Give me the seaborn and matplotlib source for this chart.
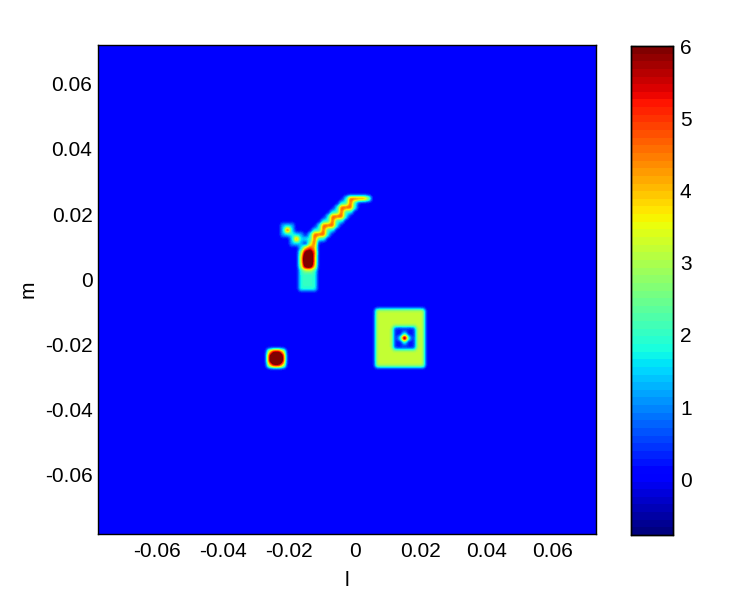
import pandas as pd
import seaborn as sns
from matplotlib import pyplot as plt

# grid columns / rows, counted from the bright middle of the square source
col_ids = list(range(-69, 44))
row_ids = list(range(66, -45, -1))
l_step = 0.0013636
m_step = 0.0013846
l_centre = 0.0151
m_centre = -0.01754

# square source: plateau with a hole and a bright middle
box_cols = list(range(-6, 5))
box_rows = list(range(6, -7, -1))
box_level = 3.2
hole_cols = [-2, -1, 0, 1, 2]
hole_rows = [2, 1, 0, -1, -2]
hole_level = 0.2
inner_cols = [-1, 0, 1]
inner_rows = [1, 0, -1]
peak_cols = [0, -1, 1, 0, 0]
peak_rows = [0, 0, 0, 1, -1]
peak_vals = [8.0, 1.8, 1.8, 1.8, 1.8]

# small bright source, lower left
core_cols = [-30, -29, -28, -27]
core_rows = [-3, -4, -5, -6]
core_vals = [
    [4.0, 5.8, 5.8, 4.0],
    [5.8, 9.0, 9.0, 5.8],
    [5.8, 9.0, 9.0, 5.8],
    [4.0, 5.8, 5.8, 4.0],
]

# stem of the Y
stem_cols = [-23, -22, -21, -20]
stem_rows = [20, 19, 18, 17, 16, 15, 14, 13, 12, 11]
stem_vals = [
    [1.5, 4.2, 5.0, 4.2],
    [3.0, 6.5, 7.0, 5.0],
    [3.5, 8.0, 8.5, 4.5],
    [3.5, 8.0, 8.5, 4.5],
    [3.2, 7.0, 7.5, 4.2],
    [2.0, 2.8, 2.8, 2.2],
    [2.0, 2.0, 2.0, 2.0],
    [2.0, 2.0, 2.0, 2.0],
    [2.0, 2.0, 2.0, 2.0],
    [2.0, 2.0, 2.0, 2.0],
]

# low shoulder of the staircase arm, one run of columns per row
band_rows = [31, 30, 29, 28, 27, 26, 25, 24, 23, 22]
band_first = [-13, -14, -15, -16, -17, -18, -19, -20, -21, -22]
band_last = [-9, -11, -11, -12, -13, -14, -15, -16, -17, -18]
band_level = 1.8

# ridge of the staircase arm
arm_cols = [-8, -9, -10, -11, -12, -12, -12, -13, -14, -14, -14, -15, -16,
            -16, -16, -17, -18, -18, -18, -19, -20, -20, -20, -21]
arm_rows = [31, 31, 31, 31, 31, 30, 29, 29, 29, 28, 27, 27, 27,
            26, 25, 25, 25, 24, 23, 23, 23, 22, 21, 21]
arm_vals = [3.2, 5.0, 5.0, 5.0, 5.0, 5.0, 5.0, 5.0, 5.0, 5.0, 5.0, 5.0, 5.0,
            5.0, 5.0, 5.0, 5.0, 5.0, 5.0, 5.0, 5.0, 5.0, 5.0, 3.0]

# the two spots of the left arm and the low ground under them
spot_ground_cols = [[-27, -26, -25], [-25, -24, -23]]
spot_ground_rows = [[25, 24, 23], [23, 22, 21]]
spot_ground_level = 1.4
spot_cols = [-26, -24, -25]
spot_rows = [24, 22, 23]
spot_vals = [5.8, 5.2, 2.0]

tick_vals = [-0.06, -0.04, -0.02, 0, 0.02, 0.04, 0.06]
tick_labels = ["-0.06", "-0.04", "-0.02", "0", "0.02", "0.04", "0.06"]
cbar_ticks = [0, 1, 2, 3, 4, 5, 6]
v_min = -0.77
v_max = 6


def x_pos(l):
    return (l - l_centre) / l_step - col_ids[0] + 0.5


def y_pos(m):
    return row_ids[0] - (m - m_centre) / m_step + 0.5


grid = pd.DataFrame(0.0, index=row_ids, columns=col_ids)
grid.loc[box_rows, box_cols] = box_level
grid.loc[hole_rows, hole_cols] = hole_level
grid.loc[inner_rows, inner_cols] = 0.0
for c, r, v in zip(peak_cols, peak_rows, peak_vals):
    grid.loc[r, c] = v
grid.loc[core_rows, core_cols] = core_vals
for r, first, last in zip(band_rows, band_first, band_last):
    grid.loc[r, first:last] = band_level
grid.loc[stem_rows, stem_cols] = stem_vals
for c, r, v in zip(arm_cols, arm_rows, arm_vals):
    grid.loc[r, c] = v
for cs, rs in zip(spot_ground_cols, spot_ground_rows):
    grid.loc[rs, cs] = spot_ground_level
for c, r, v in zip(spot_cols, spot_rows, spot_vals):
    grid.loc[r, c] = v

sns.set_theme(style="ticks")
plt.rcParams["font.family"] = ["Liberation Sans", "DejaVu Sans"]
plt.rcParams["axes.edgecolor"] = "black"
plt.rcParams["xtick.color"] = "black"
plt.rcParams["ytick.color"] = "black"

jet = plt.get_cmap("jet", 64)

fig = plt.figure(figsize=(7.5, 6), dpi=100)
ax = fig.add_axes([98 / 750, 1 - 534 / 600, 498 / 750, 489 / 600])
cax = fig.add_axes([631 / 750, 1 - 535 / 600, 42 / 750, 489 / 600])

sns.heatmap(grid, ax=ax, cbar_ax=cax, cmap=jet, vmin=v_min, vmax=v_max,
            cbar_kws={"ticks": cbar_ticks})
# the reference is shaded smoothly through the colormap
ax.imshow(grid.values, extent=(0, len(col_ids), len(row_ids), 0), cmap=jet,
          vmin=v_min, vmax=v_max, interpolation="gaussian",
          interpolation_stage="data", aspect="auto", zorder=2)

ax.set_xlim(x_pos(-0.0778), x_pos(0.0731))
ax.set_ylim(y_pos(-0.0778), y_pos(0.0726))
ax.set_xticks([x_pos(t) for t in tick_vals])
ax.set_xticklabels(tick_labels, rotation=0)
ax.set_yticks([y_pos(t) for t in tick_vals])
ax.set_yticklabels(tick_labels, rotation=0)
ax.set_xlabel("l", fontsize=15, color="black", labelpad=7)
ax.set_ylabel("m", fontsize=15, color="black", labelpad=5)
ax.tick_params(direction="in", length=3.5, width=0.8, top=True, right=True,
               labelsize=15, colors="black")
ax.tick_params(axis="x", pad=6)
ax.tick_params(axis="y", pad=4)
for side in ["top", "right", "left", "bottom"]:
    ax.spines[side].set_visible(True)
    ax.spines[side].set_color("black")
    ax.spines[side].set_linewidth(1)
    ax.spines[side].set_zorder(5)

cax.tick_params(direction="in", length=3.5, width=0.8, left=True, right=True,
                labelsize=15, pad=5, colors="black")
for spine in cax.spines.values():
    spine.set_visible(True)
    spine.set_color("black")
    spine.set_linewidth(1)

plt.savefig("out.png", dpi=100)
